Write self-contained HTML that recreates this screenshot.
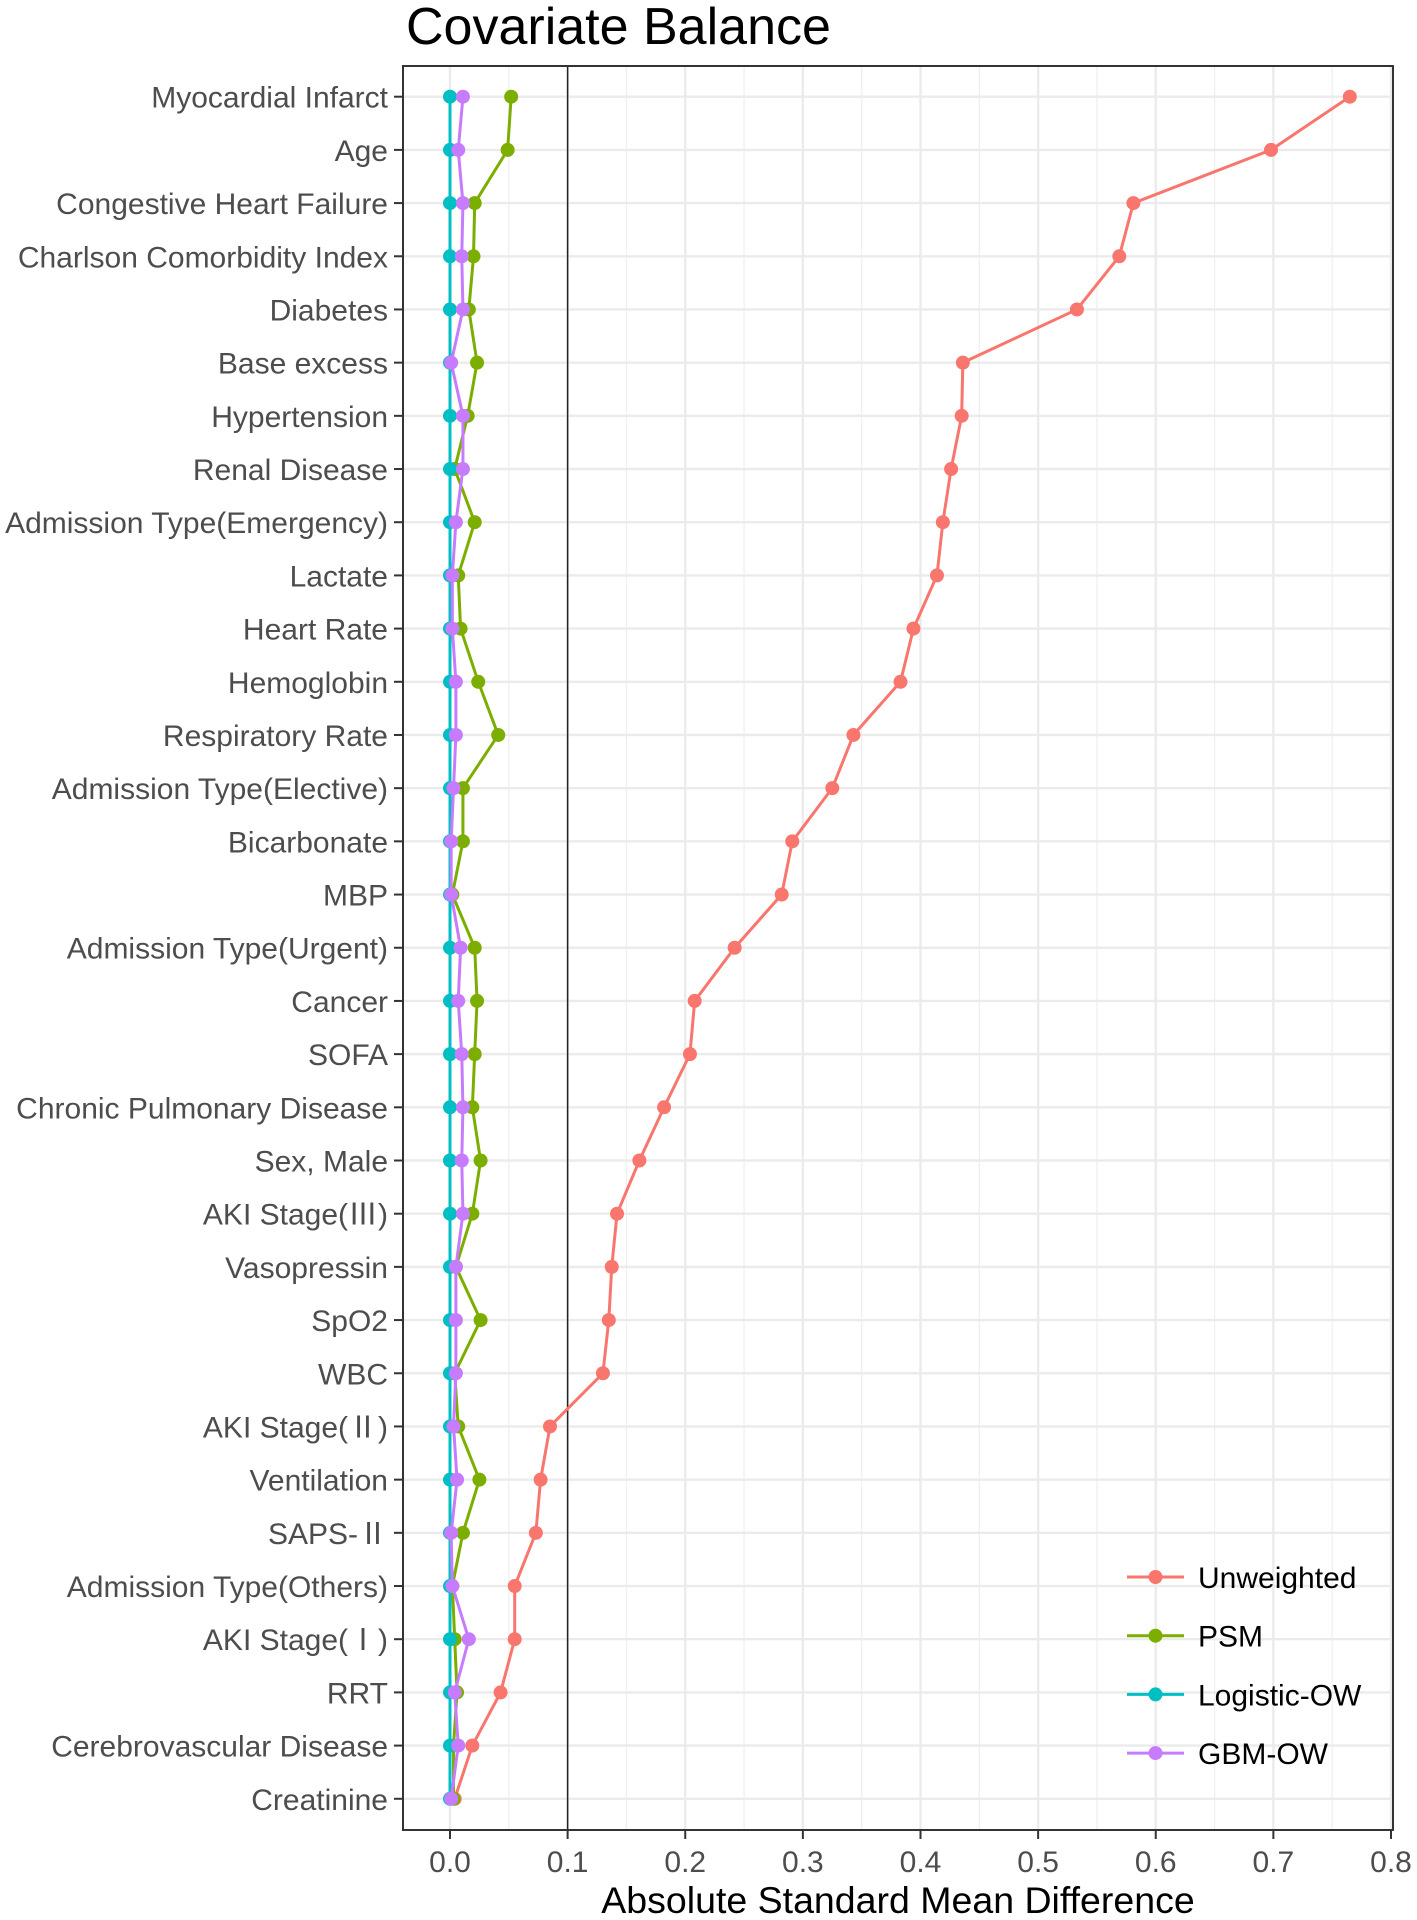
<!DOCTYPE html>
<html><head><meta charset="utf-8"><style>
html,body{margin:0;padding:0;background:#fff;}
svg{display:block;font-family:"Liberation Sans","Noto Sans CJK SC",sans-serif;}
</style></head><body>
<svg id="chart" width="1417" height="1920" viewBox="0 0 1417 1920">
<text x="406" y="44" font-size="52" fill="#000">Covariate Balance</text>
<g id="grid"></g><g id="series"></g><g id="axes"></g><g id="legend"></g>
<text x="898" y="1913" font-size="37.5" text-anchor="middle" fill="#000">Absolute Standard Mean Difference</text>
</svg>
<script>
const categories=["Myocardial Infarct","Age","Congestive Heart Failure","Charlson Comorbidity Index","Diabetes","Base excess","Hypertension","Renal Disease","Admission Type(Emergency)","Lactate","Heart Rate","Hemoglobin","Respiratory Rate","Admission Type(Elective)","Bicarbonate","MBP","Admission Type(Urgent)","Cancer","SOFA","Chronic Pulmonary Disease","Sex, Male","AKI Stage(Ⅲ)","Vasopressin","SpO2","WBC","AKI Stage(Ⅱ)","Ventilation","SAPS-Ⅱ","Admission Type(Others)","AKI Stage(Ⅰ)","RRT","Cerebrovascular Disease","Creatinine"];
const unweighted=[0.765,0.698,0.581,0.569,0.533,0.436,0.435,0.426,0.419,0.414,0.394,0.383,0.343,0.325,0.291,0.282,0.242,0.208,0.204,0.182,0.161,0.142,0.1375,0.135,0.130,0.085,0.077,0.073,0.055,0.055,0.043,0.019,0.004];
const psm=[0.052,0.049,0.021,0.020,0.016,0.023,0.015,0.004,0.021,0.007,0.009,0.024,0.041,0.011,0.011,0.002,0.021,0.023,0.021,0.019,0.026,0.019,0.005,0.026,0.004,0.007,0.025,0.011,0.002,0.004,0.006,0.003,0.003];
const logisticOW=[0,0,0,0,0,0,0,0,0,0,0,0,0,0,0,0,0,0,0,0,0,0,0,0,0,0,0,0,0,0,0,0,0];
const gbmOW=[0.011,0.007,0.011,0.010,0.011,0.001,0.011,0.011,0.005,0.002,0.002,0.005,0.005,0.003,0.001,0.001,0.009,0.007,0.010,0.011,0.010,0.011,0.005,0.005,0.005,0.003,0.006,0.001,0.002,0.016,0.004,0.007,0.001];
const xTicks=[0,0.1,0.2,0.3,0.4,0.5,0.6,0.7,0.8];
const xTickLabels=["0.0","0.1","0.2","0.3","0.4","0.5","0.6","0.7","0.8"];
const seriesNames=["Unweighted","PSM","Logistic-OW","GBM-OW"];
</script>
<script>
const NS="http://www.w3.org/2000/svg";
const L=403,R=1393,T=66,B=1830;
const x=v=>450+v*1176.25;
const y=i=>96.7+i*53.19;
function mk(tag,attrs,parent){const e=document.createElementNS(NS,tag);for(const k in attrs)e.setAttribute(k,attrs[k]);parent.appendChild(e);return e;}
const grid=document.getElementById('grid'),axes=document.getElementById('axes'),ser=document.getElementById('series'),leg=document.getElementById('legend');
const bg=mk('rect',{x:L,y:T,width:R-L,height:B-T,fill:'#fff'},grid);


for(let k=0;k<xTicks.length-1;k++){const m=(xTicks[k]+xTicks[k+1])/2;const g=mk('line',{x1:x(m),x2:x(m),y1:T,y2:B,stroke:'#f0f0f0','stroke-width':1.3},grid);

}
xTicks.forEach((t,k)=>{const g=mk('line',{x1:x(t),x2:x(t),y1:T,y2:B,stroke:'#ebebeb','stroke-width':2.4},grid);


const tk=mk('line',{x1:x(t),x2:x(t),y1:B,y2:B+9,stroke:'#333','stroke-width':2},axes);


const tx=mk('text',{x:x(t),y:1872,'font-size':30,'text-anchor':'middle',fill:'#4d4d4d'},axes);tx.textContent=xTickLabels[k];

});
categories.forEach((c,i)=>{const g=mk('line',{x1:L,x2:R,y1:y(i),y2:y(i),stroke:'#ebebeb','stroke-width':2.4},grid);


const tk=mk('line',{x1:L-9,x2:L,y1:y(i),y2:y(i),stroke:'#333','stroke-width':2},axes);


const tx=mk('text',{x:388,y:y(i)+11,'font-size':30,'text-anchor':'end',fill:'#4d4d4d'},axes);tx.textContent=c;

});
const vl=mk('line',{x1:x(0.1),x2:x(0.1),y1:T,y2:B,stroke:'#222','stroke-width':1.5},grid);


const border=mk('rect',{x:L,y:T,width:R-L,height:B-T,fill:'none',stroke:'#333','stroke-width':2},axes);


const data=[unweighted,psm,logisticOW,gbmOW];
const colors=["#F8766D","#7CAE00","#00BFC4","#C77CFF"];
data.forEach((vals,s)=>{const g=mk('g',{},ser);


const pl=mk('polyline',{points:vals.map((v,i)=>x(v)+','+y(i)).join(' '),fill:'none',stroke:colors[s],'stroke-width':3},g);


vals.forEach((v,i)=>{const p=mk('circle',{cx:x(v),cy:y(i),r:7,fill:colors[s]},g);

});});
seriesNames.forEach((n,s)=>{const yy=1577+s*58.7;const g=mk('g',{},leg);


mk('line',{x1:1127,x2:1184,y1:yy,y2:yy,stroke:colors[s],'stroke-width':3},g);
mk('circle',{cx:1155.5,cy:yy,r:7,fill:colors[s]},g);
const t=mk('text',{x:1198,y:yy+11,'font-size':30,fill:'#000'},g);t.textContent=n;});
</script>
</body></html>
